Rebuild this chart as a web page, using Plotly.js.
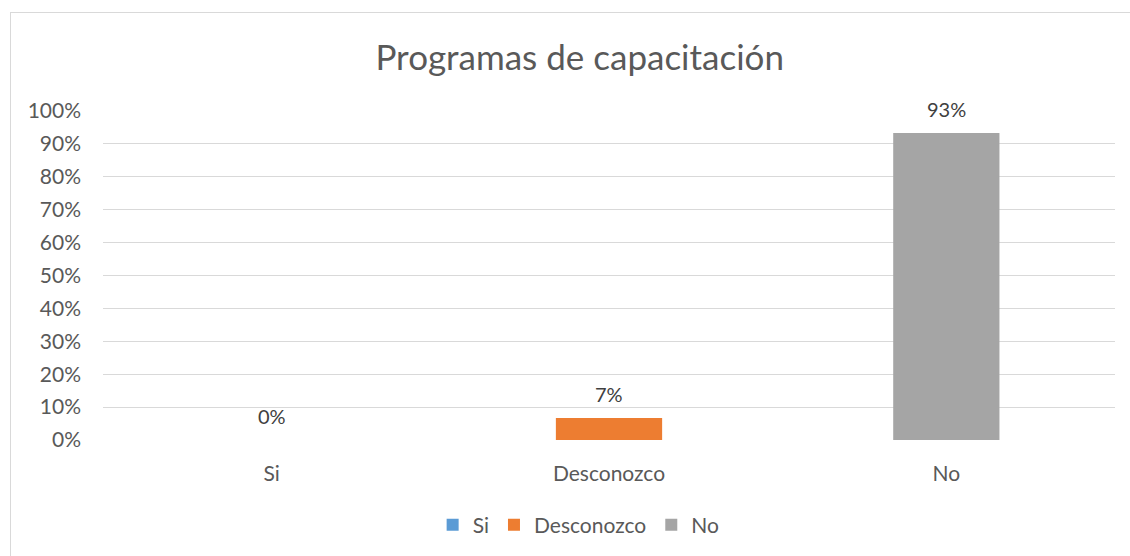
<!DOCTYPE html>
<html><head><meta charset="utf-8">
<script src="https://cdn.plot.ly/plotly-3.0.1.min.js"></script>
<style>
html,body{margin:0;padding:0;background:#fff;}
#frame{position:absolute;left:10px;top:12px;width:1130px;height:560px;border:1px solid #d9d9d9;box-sizing:border-box;pointer-events:none;}
#chart{position:absolute;left:0;top:0;width:1130px;height:556px;}
</style></head>
<body>
<div id="chart"></div>
<div id="frame"></div>
<script>
const categories = ["Si", "Desconozco", "No"];
const values = [0, 0.0667, 0.9333];
const labels = ["0%", "7%", "93%"];
const colors = ["#5B9BD5", "#ED7D31", "#A5A5A5"];
const yTicks = [0,0.1,0.2,0.3,0.4,0.5,0.6,0.7,0.8,0.9,1.0];
const yTickText = ["0%","10%","20%","30%","40%","50%","60%","70%","80%","90%","100%"];

const FONT = "Lato, 'Open Sans', sans-serif";
const traces = categories.map((c,i)=>({
  type:'bar', x:[c], y:[values[i]], name:c,
  marker:{color:colors[i]}, width:0.315, hoverinfo:'skip'
}));
const annotations = categories.map((c,i)=>({
  x:c, y:values[i], xref:'x', yref:'y', text:labels[i], showarrow:false,
  yshift:24, font:{family:FONT, size:20, color:'#404040'}
}));
Plotly.newPlot('chart', traces, {
  width:1130, height:556,
  margin:{l:103, r:15, t:111, b:115},
  paper_bgcolor:'#fff', plot_bgcolor:'#fff',
  barmode:'overlay',
  title:{text:'Programas de capacitación', x:0.513, xanchor:'center', y:0.897, yanchor:'middle',
         font:{family:FONT, size:35, color:'#595959'}},
  xaxis:{categoryorder:'array', categoryarray:categories, showgrid:false, zeroline:false,
         showline:false, ticks:'', ticklabelstandoff:19,
         tickfont:{family:FONT, size:21, color:'#595959'}},
  yaxis:{range:[0,1], tickvals:yTicks, ticktext:yTickText, showgrid:true, gridcolor:'#d9d9d9',
         gridwidth:1, zeroline:false, showline:false, ticks:'', ticklabelstandoff:21,
         tickfont:{family:FONT, size:21, color:'#595959'}},
  showlegend:true,
  legend:{orientation:'h', x:0.47, xanchor:'center', y:-0.255, yanchor:'middle',
          font:{family:FONT, size:21, color:'#595959'}, itemwidth:30, traceorder:'normal'},
  annotations:annotations
}, {staticPlot:true});
</script>
</body></html>
